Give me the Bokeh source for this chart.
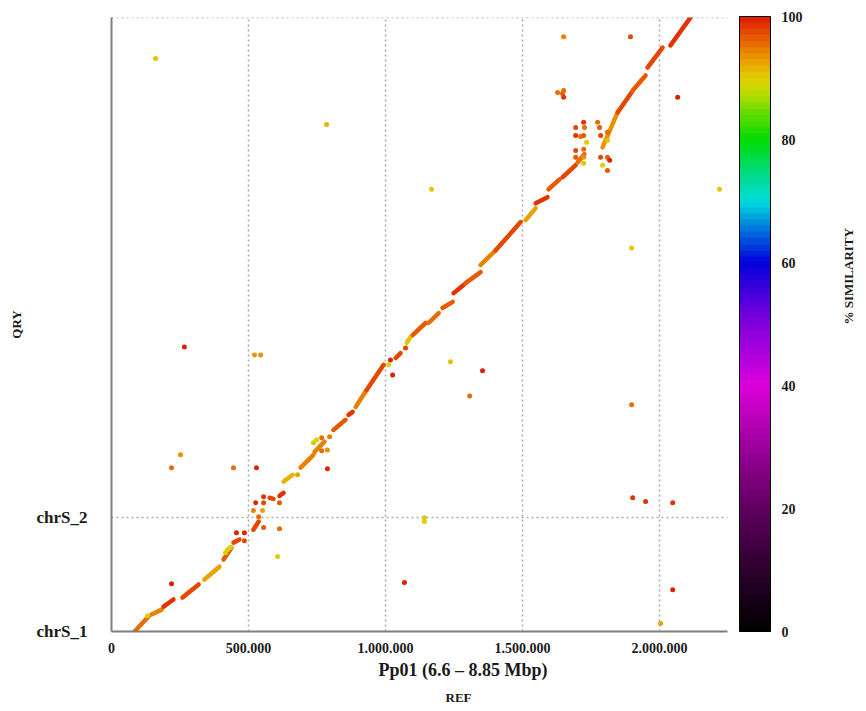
import math
from bokeh.plotting import figure
from bokeh.models import (ColumnDataSource, LinearColorMapper, ColorBar, FixedTicker,
                          Range1d, Title, LinearAxis)
from bokeh.transform import linear_cmap
from bokeh.embed import file_html
from bokeh.resources import INLINE

# ---------------- data (kb) ----------------
X_MAX_KB = 2248          # reference extent (6.6 - 8.85 Mbp)
Y_MAX_KB = 2245          # query extent
CHR_BOUNDS_KB = [0, 416]
CHR_LABELS = ["chrS_1", "chrS_2"]
X_TICKS_KB = [0, 500, 1000, 1500, 2000]
X_TICK_LABELS = ["0", "500.000", "1.000.000", "1.500.000", "2.000.000"]
CB_TICKS = [0, 20, 40, 60, 80, 100]

# alignment blocks along the main diagonal: start/end (kb) and % similarity
seg_x0 = [84, 146, 190, 259, 339, 409, 445, 518, 577, 613, 628, 690, 741, 810, 865, 891, 931,
          1037, 1077, 1099, 1157, 1208, 1248, 1292, 1347, 1402, 1511, 1548, 1595, 1646, 1701,
          1792, 1847, 1902, 1956, 2040]
seg_y0 = [0, 62, 91, 124, 190, 263, 325, 372, 489, 496, 548, 599, 657, 737, 792, 821, 883,
          1000, 1055, 1084, 1128, 1183, 1237, 1274, 1340, 1394, 1504, 1566, 1617, 1661, 1716,
          1770, 1898, 1978, 2062, 2143]
seg_x1 = [135, 183, 226, 318, 394, 438, 467, 537, 591, 628, 661, 737, 777, 854, 880, 931, 993,
          1055, 1091, 1146, 1194, 1245, 1285, 1347, 1402, 1493, 1548, 1591, 1635, 1694, 1726,
          1847, 1898, 1949, 2011, 2113]
seg_y1 = [55, 80, 117, 172, 237, 307, 336, 402, 485, 507, 573, 646, 694, 774, 803, 883, 975,
          1018, 1077, 1128, 1164, 1205, 1267, 1314, 1394, 1497, 1548, 1588, 1653, 1705, 1745,
          1898, 1971, 2033, 2135, 2245]
seg_sim = [95, 94, 98, 97, 92, 96, 97, 97, 97, 98, 91, 94, 94, 96, 98, 94, 97,
           97, 90, 96, 95, 96, 98, 96, 94, 97, 92, 98, 96, 97, 95,
           93, 97, 96, 97, 98]

# short / scattered hits
dot_x = [131, 219, 423, 434, 416, 456, 485, 485, 555, 613, 518, 551, 537, 526, 555, 555, 613,
         606, 679, 737, 767, 767, 788, 796, 748, 788, 1011, 1018, 1026, 1073, 1237, 1354, 1307,
         161, 785, 1168, 2219, 1650, 1894, 1898, 266, 522, 544, 1898, 1902, 1949, 2048, 1069,
         1142, 1142, 219, 252, 445, 529, 2004, 2048, 2066, 1628, 1646, 1650, 1650, 1774,
         1694, 1723, 1726, 1694, 1712, 1723, 1734, 1694, 1723, 1694, 1723, 1723,
         1781, 1785, 1810, 1810, 1785, 1810, 1818, 1792, 1810]
dot_y = [58, 175, 299, 307, 288, 361, 361, 332, 380, 376, 442, 442, 420, 471, 493, 471, 471,
         274, 573, 690, 708, 661, 664, 712, 701, 595, 975, 993, 938, 1037, 986, 953, 861,
         2095, 1854, 1617, 1617, 2175, 2175, 1402, 1040, 1011, 1011, 829, 489, 475, 471, 179,
         416, 402, 599, 646, 599, 599, 29, 153, 1953, 1971, 1967, 1953, 1978, 1862,
         1843, 1862, 1843, 1814, 1810, 1814, 1789, 1759, 1763, 1734, 1734, 1712,
         1843, 1814, 1825, 1796, 1734, 1734, 1723, 1705, 1686]
dot_sim = [89, 99, 89, 89, 89, 99, 99, 97, 96, 95, 94, 92, 95, 99, 98, 97, 96,
           89, 92, 90, 95, 95, 93, 94, 89, 99, 89, 99, 99, 97, 90, 99, 95,
           90, 91, 90, 90, 94, 97, 90, 99, 93, 93, 95, 98, 98, 98, 99,
           90, 89, 95, 93, 95, 99, 92, 99, 99, 95, 96, 98, 95, 95,
           97, 98, 95, 98, 95, 96, 89, 97, 95, 96, 93, 90,
           96, 97, 95, 90, 97, 96, 99, 89, 96]

# ---------------- colour scale ----------------
anchors = [(0, (0, 0, 0)), (10, (45, 0, 45)), (20, (95, 0, 95)), (30, (155, 0, 155)),
           (40, (220, 0, 220)), (45, (175, 0, 220)), (50, (130, 0, 220)), (55, (70, 0, 220)),
           (60, (0, 0, 220)), (65, (0, 110, 220)), (70, (0, 220, 220)), (75, (0, 220, 120)),
           (80, (0, 220, 0)), (85, (120, 220, 0)), (88, (200, 220, 0)), (90, (225, 205, 0)),
           (93, (232, 155, 0)), (96, (232, 100, 0)), (100, (220, 25, 0))]


def build_palette(n=100):
    pal = []
    for i in range(n):
        v = (i + 0.5) * 100.0 / n
        for (a, ca), (b, cb_) in zip(anchors[:-1], anchors[1:]):
            if a <= v <= b:
                t = (v - a) / (b - a)
                rgb = [round(ca[k] + (cb_[k] - ca[k]) * t) for k in range(3)]
                pal.append("#%02x%02x%02x" % tuple(rgb))
                break
    return pal


palette = build_palette()
mapper = LinearColorMapper(palette=palette, low=0, high=100)

SERIF = "Liberation Serif"
TXT = "#1a1a1a"

p = figure(width=866, height=711, output_backend="svg", toolbar_location=None,
           x_range=Range1d(0, X_MAX_KB * 1000), y_range=Range1d(0, Y_MAX_KB * 1000),
           min_border_left=111, min_border_right=139, min_border_top=17, min_border_bottom=79)
p.outline_line_color = None
p.background_fill_color = "white"

seg_src = ColumnDataSource(dict(
    x0=[v * 1000 for v in seg_x0], y0=[v * 1000 for v in seg_y0],
    x1=[v * 1000 for v in seg_x1], y1=[v * 1000 for v in seg_y1], sim=seg_sim))
dot_src = ColumnDataSource(dict(
    x=[v * 1000 for v in dot_x], y=[v * 1000 for v in dot_y], sim=dot_sim))

cmap = linear_cmap("sim", palette, 0, 100)
p.segment("x0", "y0", "x1", "y1", source=seg_src, line_width=4.5, line_cap="round",
          line_color=cmap)
p.scatter("x", "y", source=dot_src, size=5, fill_color=cmap, line_color=None)

# axes
p.xaxis.ticker = FixedTicker(ticks=[v * 1000 for v in X_TICKS_KB])
p.xaxis.major_label_overrides = {v * 1000: s for v, s in zip(X_TICKS_KB, X_TICK_LABELS)}
p.yaxis.ticker = FixedTicker(ticks=[v * 1000 for v in CHR_BOUNDS_KB])
p.yaxis.major_label_overrides = {v * 1000: s for v, s in zip(CHR_BOUNDS_KB, CHR_LABELS)}
for ax in (p.xaxis, p.yaxis):
    ax.axis_line_color = "#7f7f7f"
    ax.axis_line_width = 2
    ax.major_tick_line_color = None
    ax.minor_tick_line_color = None
    ax.major_label_text_font = SERIF
    ax.major_label_text_font_style = "bold"
    ax.major_label_text_color = TXT
p.xaxis.major_label_text_font_size = "14px"
p.xaxis.major_label_standoff = 5
p.yaxis.major_label_text_font_size = "17px"
p.yaxis.major_label_standoff = 18
p.yaxis.major_label_orientation = "horizontal"
p.yaxis.axis_label = "QRY"
p.yaxis.axis_label_text_font = SERIF
p.yaxis.axis_label_text_font_style = "bold"
p.yaxis.axis_label_text_font_size = "13px"
p.yaxis.axis_label_text_color = TXT
p.yaxis.axis_label_standoff = 10

# grid
p.xgrid.ticker = FixedTicker(ticks=[v * 1000 for v in X_TICKS_KB[1:]])
p.ygrid.ticker = FixedTicker(ticks=[CHR_BOUNDS_KB[1] * 1000, Y_MAX_KB * 1000 - 1500])
for g in (p.xgrid, p.ygrid):
    g.grid_line_color = "#a8a8a8"
    g.grid_line_dash = "2 3"
    g.grid_line_width = 1.5

# axis titles below
p.add_layout(Title(text="Pp01  (6.6 – 8.85 Mbp)", align="left", offset=267, standoff=4,
                   text_font=SERIF, text_font_style="bold", text_font_size="18px",
                   text_color=TXT), "below")
p.add_layout(Title(text="REF", align="left", offset=334, standoff=13,
                   text_font=SERIF, text_font_style="bold", text_font_size="13px",
                   text_color=TXT), "below")

# colour bar
cb = ColorBar(color_mapper=mapper, width=31, height=615, ticker=FixedTicker(ticks=CB_TICKS),
              major_label_text_font=SERIF, major_label_text_font_style="bold",
              major_label_text_font_size="14px", major_label_text_color=TXT,
              major_tick_line_color=None, minor_tick_line_color=None,
              bar_line_color="black", bar_line_width=1, label_standoff=11,
              padding=0, margin=0, location=(12, 0), border_line_color=None,
              background_fill_alpha=0)
p.add_layout(cb, "right")

sim_axis = LinearAxis(axis_label="% SIMILARITY", ticker=FixedTicker(ticks=[]),
                      axis_line_color=None, major_tick_line_color=None,
                      minor_tick_line_color=None, major_tick_out=0, major_tick_in=0,
                      major_label_standoff=0, axis_label_standoff=43,
                      axis_label_orientation=math.pi / 2, axis_label_text_baseline="top",
                      axis_label_text_line_height=0.6,
                      axis_label_text_font=SERIF, axis_label_text_font_style="bold",
                      axis_label_text_font_size="13px", axis_label_text_color=TXT)
p.add_layout(sim_axis, "right")

open("out.html", "w").write(file_html(p, INLINE))
